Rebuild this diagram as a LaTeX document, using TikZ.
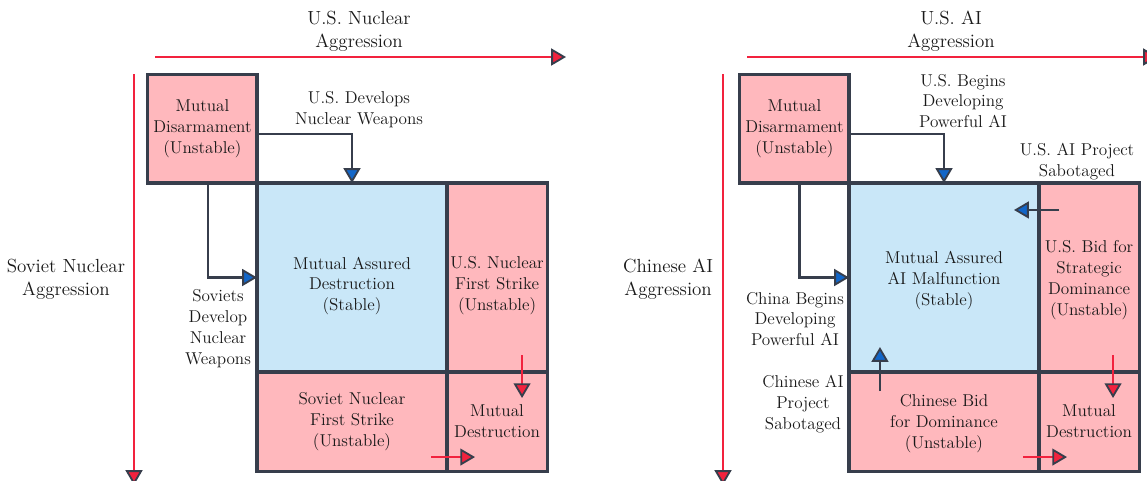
\documentclass[tikz,border=0pt]{standalone}
\usepackage{tikz}
\usetikzlibrary{arrows.meta, positioning, calc}
\definecolor{mainDark}{RGB}{55,62,76}
\definecolor{mainRed}{RGB}{242,34,62}
\definecolor{palePink}{RGB}{255,184,189}
\definecolor{paleBlue}{RGB}{201,231,248}
\definecolor{tipBlue}{RGB}{18,102,200}

\begin{document}
\begin{tikzpicture}[x=0.025cm, y=-0.025cm,
    box/.style={draw=mainDark, line width=2.2pt, inner sep=0pt, outer sep=0pt},
    boxText/.style={align=center, text=black!90, font=\fontsize{12.2}{14.9}\selectfont},
    axisText/.style={align=center, text=black!90, font=\fontsize{13.5}{16.4}\selectfont},
    flow/.style={draw=mainDark, line width=1.9pt, -{Triangle[length=10.5pt, width=12pt, line width=1.3pt, color=mainDark, fill=tipBlue]}},
    push/.style={draw=mainRed, line width=1.9pt, -{Triangle[length=10.5pt, width=12pt, line width=1.3pt, color=mainDark, fill=mainRed]}}]
    \useasboundingbox (0,0) rectangle (1147,481);

    % ---- left: nuclear ----
    \coordinate (nucXStart) at (155,57);
    \coordinate (nucXEnd) at (566,57);
    \coordinate (nucYStart) at (134,74);
    \coordinate (nucYEnd) at (134,485);
    \draw[push] (nucXStart) -- (nucXEnd);
    \draw[push] (nucYStart) -- (nucYEnd);
    \node[axisText] (nucXLabel) at (359,31) {U.S. Nuclear\\Aggression};
    \node[axisText, anchor=east] (nucYLabel) at (130,279) {Soviet Nuclear\\Aggression};

    \node[box, fill=paleBlue, minimum width=4.75cm, minimum height=4.725cm] (madL) at (352,277.5) {};
    \node[box, fill=palePink, minimum width=2.5cm, minimum height=4.725cm, right=0pt of madL] (usStrikeL) {};
    \node[box, fill=palePink, minimum width=4.75cm, minimum height=2.475cm, below=0pt of madL] (soStrikeL) {};
    \node[box, fill=palePink, minimum width=2.5cm, minimum height=2.475cm, right=0pt of soStrikeL] (mdL) {};
    \node[box, fill=palePink, minimum width=2.725cm, minimum height=2.7cm, above left=0pt of madL] (disL) {};

    \node[boxText] (disLText) at (disL) {Mutual\\Disarmament\\(Unstable)};
    \node[boxText] (madLText) at ($(madL)+(0,8.5)$) {Mutual Assured\\Destruction\\(Stable)};
    \node[boxText] (usStrikeLText) at ($(usStrikeL)+(0,8.5)$) {U.S. Nuclear\\First Strike\\(Unstable)};
    \node[boxText] (soStrikeLText) at (soStrikeL) {Soviet Nuclear\\First Strike\\(Unstable)};
    \node[boxText] (mdLText) at (mdL) {Mutual\\Destruction};

    \draw[flow] ($(disL.east)+(0,5)$) -| (madL.north);
    \draw[flow] ($(disL.south)+(5.5,0)$) |- (madL.west);
    \node[boxText] (usDevLabel) at (359,110) {U.S. Develops\\Nuclear Weapons};
    \node[boxText] (soDevLabel) at (218,329) {Soviets\\Develop\\Nuclear\\Weapons};
    \draw[push] ($(usStrikeL.south east)+(-25,-17)$) -- ($(usStrikeL.south east)+(-25,26)$);
    \draw[push] ($(soStrikeL.south east)+(-16,-14)$) -- ($(soStrikeL.south east)+(28,-14)$);

    % ---- right: AI ----
    \coordinate (aiXStart) at (747,57);
    \coordinate (aiXEnd) at (1158,57);
    \coordinate (aiYStart) at (723,74);
    \coordinate (aiYEnd) at (723,485);
    \draw[push] (aiXStart) -- (aiXEnd);
    \draw[push] (aiYStart) -- (aiYEnd);
    \node[axisText] (aiXLabel) at (951,31) {U.S. AI\\Aggression};
    \node[axisText, anchor=east] (aiYLabel) at (718,279) {Chinese AI\\Aggression};

    \node[box, fill=paleBlue, minimum width=4.75cm, minimum height=4.725cm] (madR) at (944,277.5) {};
    \node[box, fill=palePink, minimum width=2.5cm, minimum height=4.725cm, right=0pt of madR] (usBidR) {};
    \node[box, fill=palePink, minimum width=4.75cm, minimum height=2.475cm, below=0pt of madR] (chBidR) {};
    \node[box, fill=palePink, minimum width=2.5cm, minimum height=2.475cm, right=0pt of chBidR] (mdR) {};
    \node[box, fill=palePink, minimum width=2.725cm, minimum height=2.7cm, above left=0pt of madR] (disR) {};

    \node[boxText] (disRText) at (disR) {Mutual\\Disarmament\\(Unstable)};
    \node[boxText] (madRText) at ($(madR)+(0,3)$) {Mutual Assured\\AI Malfunction\\(Stable)};
    \node[boxText] (usBidRText) at ($(usBidR)+(0,2.5)$) {U.S. Bid for\\Strategic\\Dominance\\(Unstable)};
    \node[boxText] (chBidRText) at ($(chBidR)+(0,2.5)$) {Chinese Bid\\for Dominance\\(Unstable)};
    \node[boxText] (mdRText) at (mdR) {Mutual\\Destruction};

    \draw[flow] ($(disR.east)+(0,5)$) -| (madR.north);
    \draw[flow] ($(disR.south)+(5,0)$) |- (madR.west);
    \draw[flow] ($(usBidR.north west)+(20,27)$) -- ($(madR.north east)+(-25,27)$);
    \draw[flow] ($(chBidR.north west)+(31,19)$) -- ($(chBidR.north west)+(31,-25)$);
    \node[boxText] (usBeginLabel) at (963,101) {U.S. Begins\\Developing\\Powerful AI};
    \node[boxText] (usSabLabel) at (1077,161.5) {U.S. AI Project\\Sabotaged};
    \node[boxText] (chBeginLabel) at (795,319) {China Begins\\Developing\\Powerful AI};
    \node[boxText] (chSabLabel) at (803,404) {Chinese AI\\Project\\Sabotaged};
    \draw[push] ($(usBidR.south east)+(-26,-17)$) -- ($(usBidR.south east)+(-26,26)$);
    \draw[push] ($(chBidR.south east)+(-16,-14)$) -- ($(chBidR.south east)+(28,-14)$);
\end{tikzpicture}
\end{document}
